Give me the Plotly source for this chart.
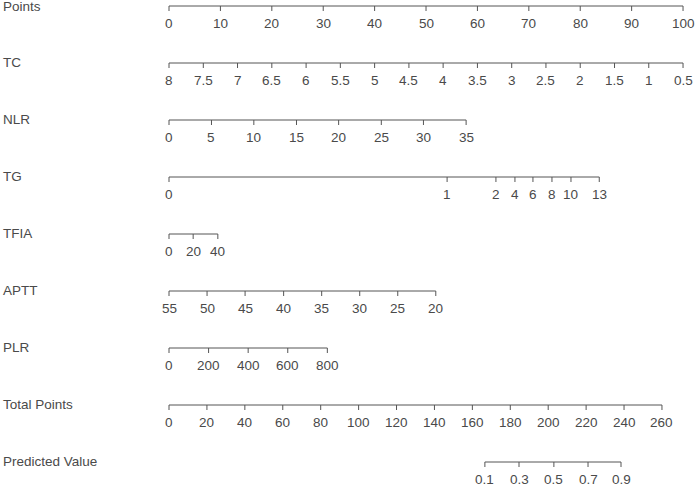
import plotly.graph_objects as go

# Nomogram rows (top to bottom)
row_names = ["Points", "TC", "NLR", "TG", "TFIA", "APTT", "PLR",
             "Total Points", "Predicted Value"]

# tick labels and where they sit on the 0-100 points scale
points_labels = ["0", "10", "20", "30", "40", "50", "60", "70", "80", "90", "100"]
points_pos = [0, 10, 20, 30, 40, 50, 60, 70, 80, 90, 100]

tc_labels = ["8", "7.5", "7", "6.5", "6", "5.5", "5", "4.5", "4", "3.5",
             "3", "2.5", "2", "1.5", "1", "0.5"]
tc_pos = [0, 6.67, 13.33, 20, 26.67, 33.33, 40, 46.67, 53.33, 60,
          66.67, 73.33, 80, 86.67, 93.33, 100]

nlr_labels = ["0", "5", "10", "15", "20", "25", "30", "35"]
nlr_pos = [0, 8.26, 16.5, 24.8, 33.0, 41.3, 49.5, 57.8]

tg_labels = ["0", "1", "2", "4", "6", "8", "10", "13"]
tg_pos = [0, 54.1, 63.6, 67.3, 70.8, 74.5, 78.2, 83.7]

tfia_labels = ["0", "20", "40"]
tfia_pos = [0, 4.7, 9.5]

aptt_labels = ["55", "50", "45", "40", "35", "30", "25", "20"]
aptt_pos = [0, 7.4, 14.8, 22.3, 29.7, 37.1, 44.5, 51.9]

plr_labels = ["0", "200", "400", "600", "800"]
plr_pos = [0, 7.7, 15.4, 23.1, 30.8]

# total points axis (in total-point units)
total_labels = ["0", "20", "40", "60", "80", "100", "120", "140", "160",
                "180", "200", "220", "240", "260"]
total_vals = [0, 20, 40, 60, 80, 100, 120, 140, 160, 180, 200, 220, 240, 260]

pred_labels = ["0.1", "0.3", "0.5", "0.7", "0.9"]
pred_total = [166.6, 184.6, 203.0, 221.0, 238.4]

# total points -> points-scale units
TOTAL_SCALE = 95.9 / 260

rows = [
    (points_labels, points_pos),
    (tc_labels, tc_pos),
    (nlr_labels, nlr_pos),
    (tg_labels, tg_pos),
    (tfia_labels, tfia_pos),
    (aptt_labels, aptt_pos),
    (plr_labels, plr_pos),
    (total_labels, [v * TOTAL_SCALE for v in total_vals]),
    (pred_labels, [v * TOTAL_SCALE for v in pred_total]),
]

line_col = "#555555"
text_col = "#4a4a4a"
font = "Liberation Sans, Arial, sans-serif"

fig = go.Figure()
annotations = []

for i, (name, (labels, pos)) in enumerate(zip(row_names, rows)):
    y0 = -(6 + 57 * i)
    xs, ys = [min(pos), max(pos), None], [y0, y0, None]
    for p in pos:
        xs += [p, p, None]
        ys += [y0, y0 - 5, None]
    fig.add_trace(go.Scatter(x=xs, y=ys, mode="lines",
                             line=dict(color=line_col, width=1),
                             hoverinfo="skip", showlegend=False))
    for lab, p in zip(labels, pos):
        annotations.append(dict(x=p, y=y0 - 17.5, text=lab, showarrow=False,
                                xanchor="center", yanchor="middle",
                                font=dict(size=13.5, color=text_col, family=font)))
    annotations.append(dict(x=-32.7, y=y0 + (-0.5 if i == 0 else 1), text=name,
                            showarrow=False, xanchor="left", yanchor="middle",
                            font=dict(size=13.5, color=text_col, family=font)))

fig.update_layout(
    width=700, height=493,
    margin=dict(l=0, r=0, t=0, b=0),
    plot_bgcolor="white", paper_bgcolor="white",
    annotations=annotations,
    xaxis=dict(range=[-32.88, 103.3], visible=False, fixedrange=True),
    yaxis=dict(range=[-493, 0], visible=False, fixedrange=True),
)

# drop the browser's default page margin so the figure fills the window
fig.write_html("out.html", config={"displayModeBar": False},
               post_script="document.body.style.margin='0';")
